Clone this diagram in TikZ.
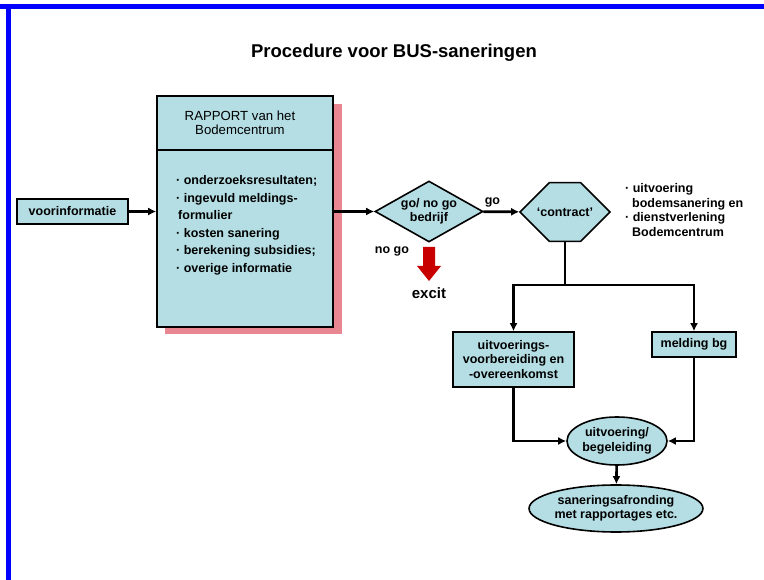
\documentclass[tikz,border=0pt]{standalone}
\usepackage{fontspec}
\setmainfont{Liberation Sans}
\usetikzlibrary{arrows.meta,shapes.geometric,shapes.misc}
\definecolor{boxblue}{RGB}{180,222,228}
\definecolor{shadowpink}{RGB}{232,135,145}
\definecolor{exitred}{RGB}{200,0,0}
\definecolor{frameblue}{RGB}{0,0,255}

\begin{document}
\begin{tikzpicture}[x=1pt,y=-1pt,
    lbl/.style={inner sep=0pt,align=center,font=\fontsize{12.5}{14.5}\selectfont\bfseries},
    box/.style={lbl,draw,line width=1.6pt,fill=boxblue},
    conn/.style={line width=2.6pt,-{Latex[length=8pt,width=8pt]}},
    wire/.style={line width=2.6pt}]
  \useasboundingbox (0,0) rectangle (764,580);
  % frame
  \fill[frameblue] (0,4) rectangle (764,9);
  \fill[frameblue] (6,4) rectangle (11,580);

  \node[lbl,font=\fontsize{18.5}{20}\selectfont\bfseries] (title) at (394,53) {Procedure voor BUS-saneringen};

  \node[box,minimum width=111pt,minimum height=25pt] (vi) at (72.5,211.5) {voorinformatie};

  % rapport with shadow
  \fill[shadowpink] (165,104) rectangle (342,334);
  \node[box,minimum width=176pt,minimum height=231pt] (rapport) at (245,211.5) {};
  \draw[line width=1.6pt] (rapport.north west) ++(0,55) -- ++(176,0);
  \node[lbl,font=\fontsize{13.2}{14.5}\selectfont] (rhead) at (240,123) {RAPPORT van het\\Bodemcentrum};
  \node[lbl,anchor=north west,align=left,font=\fontsize{12.5}{17.5}\selectfont\bfseries] (rlist) at (176,175.5)
    {· onderzoeksresultaten;\\· ingevuld meldings-\\\hspace{2pt}formulier\\· kosten sanering\\· berekening subsidies;\\· overige informatie};

  % decision
  \node[box,diamond,aspect=1.77,minimum width=108pt,minimum height=61pt] (gonogo) at (429,211.5) {go/ no go\\bedrijf};
  \node[lbl] (nogo) at (392,251) {no go};
  \fill[exitred] (423,247) -- (435,247) -- (435,266) -- (441,266) -- (429,281) -- (417,266) -- (423,266) -- cycle;
  \node[lbl,font=\fontsize{15}{17}\selectfont\bfseries] (excit) at (429,293) {excit};

  \node[box,chamfered rectangle,chamfered rectangle xsep=15pt,chamfered rectangle ysep=25pt,
        minimum width=90pt,minimum height=50pt] (contract) at (565,212) {‘contract’};
  \node[lbl,anchor=north west,align=left] (dienst) at (625,183.5)
    {· uitvoering\\\hspace{7pt}bodemsanering en\\· dienstverlening\\\hspace{7pt}Bodemcentrum};

  \node[box,minimum width=121pt,minimum height=55pt] (uvb) at (513.5,359.5) {uitvoerings-\\voorbereiding en\\-overeenkomst};
  \node[box,minimum width=84pt,minimum height=25pt] (melding) at (694,344.5) {melding bg};
  \node[box,ellipse,minimum width=100pt,minimum height=48pt] (uitv) at (617,441) {uitvoering/\\begeleiding};
  \node[box,ellipse,minimum width=172pt,minimum height=47pt] (afr) at (616,508.5) {saneringsafronding\\met rapportages etc.};
  \coordinate (split) at (565,285);

  \draw[conn] (vi) -- (rapport);
  \draw[conn] (rapport) -- (gonogo);
  \draw[conn] (gonogo) -- node[lbl,near start,above=3pt] {go} (contract);
  \draw[wire] (contract) -- (split);
  \draw[conn] (split) -| (uvb);
  \draw[conn] (split) -| (melding);
  \draw[conn] (uvb) |- (uitv);
  \draw[conn] (melding) |- (uitv);
  \draw[conn] (uitv) -- (afr);
\end{tikzpicture}
\end{document}
